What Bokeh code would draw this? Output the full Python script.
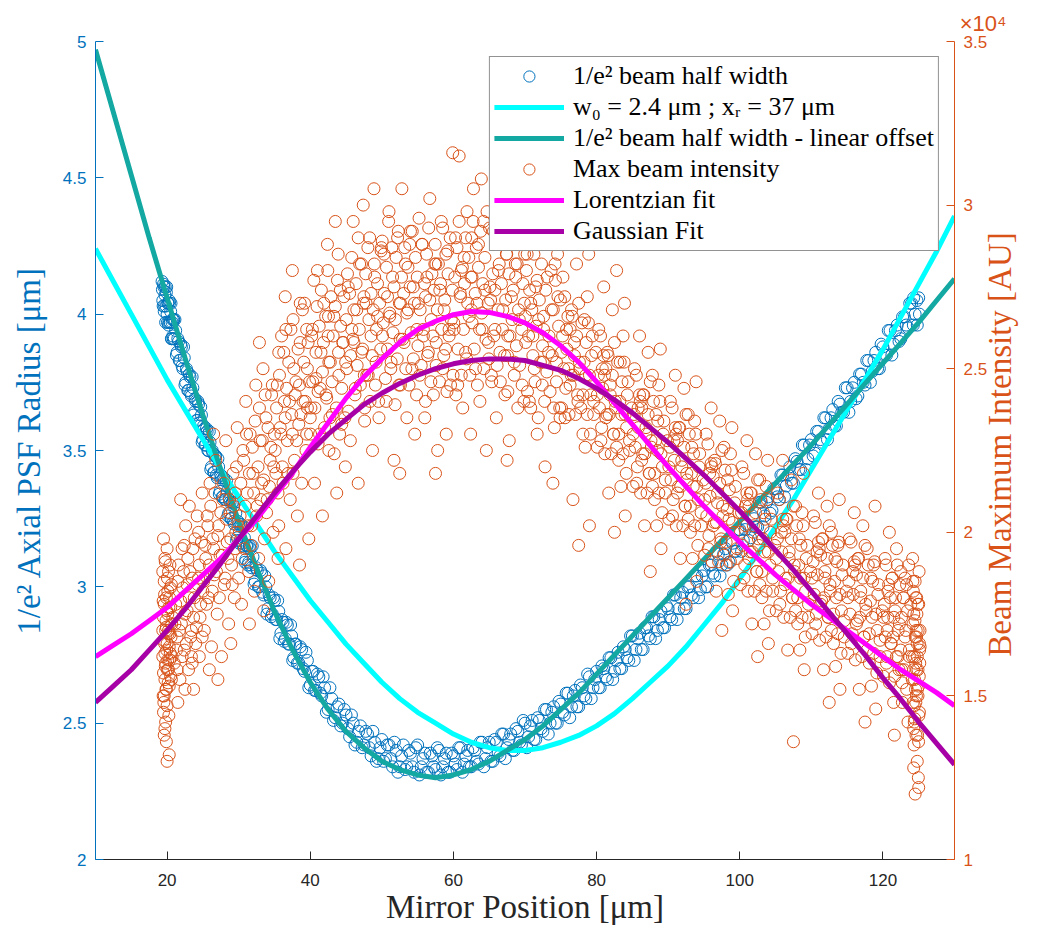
import math
from bokeh.plotting import figure
from bokeh.models import (Range1d, LinearAxis, FixedTicker, NumeralTickFormatter,
                          CustomJSTickFormatter, Legend, LegendItem, Title)
from bokeh.embed import file_html
from bokeh.resources import INLINE

# ---------------- data ----------------
x_ticks = [20, 40, 60, 80, 100, 120]
left_ticks = [2, 2.5, 3, 3.5, 4, 4.5, 5]
right_ticks = [1, 1.5, 2, 2.5, 3, 3.5]

# 1/e^2 beam half width (left axis, um) vs mirror position (um)
blue_x = [19.3, 19.4, 19.5, 19.6, 19.7, 19.8, 19.9, 20.0, 20.1, 20.2, 20.3, 20.4, 20.5, 20.6, 20.7, 20.8, 20.9, 21.0,
          21.2, 21.4, 21.6, 21.8, 22.0, 22.2, 22.4, 22.6, 22.8, 23.0, 23.2, 23.4, 23.6, 23.8, 24.0, 24.2, 24.4, 24.6,
          24.8, 25.0, 25.2, 25.4, 25.6, 25.8, 26.0, 26.2, 26.4, 26.6, 26.8, 27.0, 27.2, 27.4, 27.6, 27.8, 28.0, 28.2,
          28.4, 28.6, 28.8, 29.0, 29.2, 29.4, 29.6, 29.8, 30.0, 30.2, 30.4, 30.6, 30.8, 31.0, 31.2, 31.4, 31.6, 31.8, 32.0,
          32.3, 32.6, 32.9, 33.2, 33.5, 33.8, 34.1, 34.4, 34.7, 35.0, 35.3, 35.6, 35.9, 36.2, 36.5, 36.8, 37.1, 37.4, 37.7, 38.0,
          38.4, 38.8, 39.2, 39.6, 40.0, 40.4, 40.8, 41.2, 41.6, 42.0,
          42.5, 43.0, 43.5, 44.0, 44.5, 45.0, 45.5, 46.0, 46.5, 47.0, 47.5, 48.0, 48.5, 49.0, 49.5, 50.0,
          50.5, 51.0, 51.5, 52.0, 52.5, 53.0, 53.5, 54.0, 54.5, 55.0, 55.5, 56.0, 56.5, 57.0, 57.5, 58.0,
          58.5, 59.0, 59.5, 60.0, 60.5, 61.0, 61.5, 62.0, 62.5, 63.0, 63.5, 64.0, 64.5, 65.0, 65.5, 66.0,
          66.5, 67.0, 67.5, 68.0, 68.5, 69.0, 69.5, 70.0, 70.5, 71.0, 71.5, 72.0, 72.5, 73.0, 73.5, 74.0,
          74.5, 75.0, 75.5, 76.0, 76.5, 77.0, 77.5, 78.0, 78.5, 79.0, 79.5, 80.0, 80.5, 81.0, 81.5, 82.0,
          82.5, 83.0, 83.5, 84.0, 84.5, 85.0, 85.5, 86.0, 86.5, 87.0, 87.5, 88.0, 88.5, 89.0, 89.5, 90.0,
          90.5, 91.0, 91.5, 92.0, 92.5, 93.0, 93.5, 94.0, 94.5, 95.0, 95.5, 96.0, 96.5, 97.0, 97.5, 98.0,
          98.5, 99.0, 99.5, 100.0, 100.5, 101.0, 101.5, 102.0, 102.5, 103.0, 103.5, 104.0, 104.5, 105.0,
          105.5, 106.0, 106.5, 107.0, 107.5, 108.0, 108.5, 109.0, 109.5, 110.0, 110.5, 111.0, 111.5, 112.0,
          112.5, 113.0, 113.5, 114.0, 114.5, 115.0, 115.5, 116.0, 116.5, 117.0, 117.5, 118.0, 118.5, 119.0,
          119.5, 120.0, 120.5, 121.0, 121.5, 122.0, 122.5, 123.0, 123.5, 124.0, 124.5, 125.0,
          124.8, 125.1, 124.3,
          19.35, 19.45, 19.55, 19.65, 19.75, 19.85, 19.95, 20.05, 20.15, 20.25, 20.35, 20.45, 20.55, 20.65, 20.75, 20.85, 20.95,
          21.1, 21.3, 21.5, 21.7, 21.9, 22.1, 22.3, 22.5, 22.7, 22.9, 23.1, 23.3, 23.5, 23.7, 23.9, 24.1, 24.3, 24.5, 24.7, 24.9,
          25.1, 25.3, 25.5, 25.7, 25.9, 26.1, 26.3, 26.5, 26.7, 26.9, 27.1, 27.3, 27.5, 27.7, 27.9, 28.1, 28.3, 28.5, 28.7, 28.9,
          29.1, 29.3, 29.5, 29.7, 29.9, 30.1, 30.3, 30.5, 30.7, 30.9, 31.1, 31.3, 31.5, 31.7, 31.9,
          32.15, 32.45, 32.75, 33.05, 33.35, 33.65, 33.95, 34.25, 34.55, 34.85, 35.15, 35.45, 35.75, 36.05, 36.35, 36.65,
          36.95, 37.25, 37.55, 37.85, 38.2, 38.6, 39.0, 39.4, 39.8, 40.2, 40.6, 41.0, 41.4, 41.8, 42.25,
          42.75, 43.25, 43.75, 44.25, 44.75, 45.25, 45.75, 46.25, 46.75, 47.25, 47.75, 48.25, 48.75, 49.25, 49.75,
          50.25, 50.75, 51.25, 51.75, 52.25, 52.75, 53.25, 53.75, 54.25, 54.75, 55.25, 55.75, 56.25, 56.75, 57.25, 57.75,
          58.25, 58.75, 59.25, 59.75, 60.25, 60.75, 61.25, 61.75, 62.25, 62.75, 63.25, 63.75, 64.25, 64.75, 65.25, 65.75,
          66.25, 66.75, 67.25, 67.75, 68.25, 68.75, 69.25, 69.75, 70.25, 70.75, 71.25, 71.75, 72.25, 72.75, 73.25, 73.75,
          74.25, 74.75, 75.25, 75.75, 76.25, 76.75, 77.25, 77.75, 78.25, 78.75, 79.25, 79.75, 80.25, 80.75, 81.25, 81.75,
          82.25, 82.75, 83.25, 83.75, 84.25, 84.75, 85.25, 85.75, 86.25, 86.75, 87.25, 87.75, 88.25, 88.75, 89.25, 89.75,
          90.25, 90.75, 91.25, 91.75, 92.25, 92.75, 93.25, 93.75, 94.25, 94.75, 95.25, 95.75, 96.25, 96.75, 97.25, 97.75,
          98.25, 98.75, 99.25, 99.75, 100.25, 100.75, 101.25, 101.75, 102.25, 102.75, 103.25, 103.75, 104.25, 104.75,
          105.25, 105.75, 106.25, 106.75, 107.25, 107.75, 108.25, 108.75, 109.25, 109.75, 110.25, 110.75, 111.25, 111.75,
          112.25, 112.75, 113.25, 113.75, 114.25, 114.75, 115.25, 115.75, 116.25, 116.75, 117.25, 117.75, 118.25, 118.75,
          119.25, 119.75, 120.25, 120.75, 121.25, 121.75, 122.25, 122.75, 123.25, 123.75, 124.25, 124.75]
blue_y = [4.12, 4.05, 4.11, 4.01, 4.07, 3.97, 4.08, 4.00, 4.04, 3.96, 4.05, 3.97, 4.01, 3.91, 3.97, 3.92, 3.98, 3.91,
          3.94, 3.86, 3.90, 3.83, 3.88, 3.80, 3.84, 3.75, 3.79, 3.72, 3.77, 3.70, 3.73, 3.64, 3.68, 3.61, 3.67, 3.59,
          3.63, 3.54, 3.58, 3.52, 3.57, 3.50, 3.53, 3.44, 3.49, 3.42, 3.48, 3.40, 3.44, 3.35, 3.40, 3.33, 3.39, 3.32,
          3.35, 3.27, 3.31, 3.25, 3.31, 3.23, 3.27, 3.18, 3.23, 3.17, 3.22, 3.15, 3.18, 3.10, 3.15, 3.09, 3.14, 3.07, 3.11,
          3.02, 3.06, 3.00, 3.05, 2.97, 3.00, 2.92, 2.96, 2.90, 2.95, 2.88, 2.91, 2.83, 2.87, 2.81, 2.86, 2.79, 2.82, 2.74, 2.79,
          2.72, 2.77, 2.69, 2.73, 2.64, 2.69, 2.62, 2.67, 2.60, 2.63,
          2.55, 2.59, 2.52, 2.57, 2.50, 2.53, 2.45, 2.50, 2.43, 2.49, 2.42, 2.46, 2.38, 2.43, 2.37, 2.44,
          2.37, 2.42, 2.34, 2.40, 2.34, 2.42, 2.34, 2.39, 2.32, 2.42, 2.34, 2.39, 2.32, 2.38, 2.33, 2.40,
          2.34, 2.39, 2.32, 2.38, 2.33, 2.41, 2.35, 2.40, 2.34, 2.40, 2.35, 2.43, 2.37, 2.43, 2.36, 2.43,
          2.38, 2.46, 2.41, 2.46, 2.40, 2.47, 2.42, 2.50, 2.45, 2.51, 2.44, 2.51, 2.47, 2.55, 2.50, 2.56,
          2.50, 2.57, 2.53, 2.61, 2.56, 2.62, 2.56, 2.63, 2.59, 2.67, 2.63, 2.69, 2.63, 2.70, 2.66, 2.74,
          2.69, 2.76, 2.70, 2.77, 2.73, 2.82, 2.77, 2.83, 2.77, 2.85, 2.81, 2.89, 2.84, 2.91, 2.85, 2.92,
          2.88, 2.97, 2.92, 2.98, 2.92, 3.00, 2.96, 3.04, 2.99, 3.06, 3.00, 3.08, 3.04, 3.12, 3.08, 3.14,
          3.09, 3.16, 3.13, 3.21, 3.17, 3.23, 3.18, 3.25, 3.22, 3.31, 3.26, 3.33, 3.28, 3.36,
          3.32, 3.41, 3.37, 3.44, 3.38, 3.46, 3.43, 3.52, 3.47, 3.54, 3.49, 3.57, 3.53, 3.62,
          3.58, 3.65, 3.59, 3.67, 3.64, 3.73, 3.68, 3.75, 3.70, 3.78, 3.74, 3.83, 3.79, 3.86,
          3.80, 3.88, 3.85, 3.94, 3.89, 3.96, 3.91, 3.99, 3.95, 4.04, 4.00, 4.06,
          3.96, 4.00, 4.06,
          4.09, 4.03, 4.10, 4.03, 4.10, 4.03, 4.10, 3.97, 4.04, 3.97, 4.04, 3.97, 4.04, 3.91, 3.98, 3.91, 3.98,
          3.98, 3.85, 3.91, 3.83, 3.89, 3.81, 3.88, 3.74, 3.80, 3.72, 3.78, 3.71, 3.77, 3.63, 3.69, 3.61, 3.68, 3.60, 3.66, 3.53,
          3.59, 3.52, 3.58, 3.50, 3.57, 3.43, 3.50, 3.42, 3.48, 3.41, 3.47, 3.34, 3.41, 3.33, 3.40, 3.32, 3.39, 3.26, 3.32, 3.25,
          3.31, 3.24, 3.31, 3.17, 3.24, 3.16, 3.23, 3.16, 3.22, 3.09, 3.15, 3.08, 3.15, 3.08, 3.15,
          3.01, 3.07, 3.00, 3.06, 2.98, 3.04, 2.90, 2.97, 2.89, 2.96, 2.88, 2.95, 2.81, 2.88, 2.80, 2.87,
          2.79, 2.86, 2.73, 2.79, 2.72, 2.78, 2.70, 2.76, 2.63, 2.69, 2.62, 2.68, 2.61, 2.67, 2.54,
          2.63, 2.51, 2.56, 2.49, 2.55, 2.48, 2.53, 2.42, 2.47, 2.41, 2.47, 2.41, 2.47, 2.36, 2.41,
          2.36, 2.42, 2.37, 2.43, 2.32, 2.38, 2.33, 2.40, 2.34, 2.41, 2.31, 2.37, 2.32, 2.39, 2.34, 2.41,
          2.31, 2.37, 2.32, 2.39, 2.35, 2.41, 2.32, 2.38, 2.34, 2.41, 2.36, 2.43, 2.34, 2.41, 2.36, 2.44,
          2.39, 2.46, 2.37, 2.44, 2.40, 2.48, 2.43, 2.51, 2.41, 2.49, 2.44, 2.52, 2.48, 2.55, 2.46, 2.54,
          2.50, 2.58, 2.54, 2.61, 2.52, 2.60, 2.56, 2.64, 2.60, 2.68, 2.59, 2.66, 2.63, 2.71, 2.67, 2.74,
          2.66, 2.73, 2.70, 2.78, 2.74, 2.82, 2.73, 2.81, 2.77, 2.85, 2.82, 2.89, 2.81, 2.88, 2.85, 2.93,
          2.89, 2.97, 2.88, 2.96, 2.92, 3.00, 2.97, 3.04, 2.96, 3.04, 3.00, 3.08, 3.05, 3.13, 3.04, 3.12,
          3.08, 3.17, 3.13, 3.21, 3.13, 3.21, 3.17, 3.26, 3.22, 3.31, 3.22, 3.31, 3.27, 3.36,
          3.33, 3.41, 3.33, 3.41, 3.38, 3.47, 3.43, 3.52, 3.43, 3.52, 3.48, 3.57, 3.54, 3.62,
          3.54, 3.62, 3.59, 3.68, 3.64, 3.73, 3.64, 3.73, 3.69, 3.78, 3.75, 3.83, 3.75, 3.83,
          3.80, 3.89, 3.85, 3.94, 3.85, 3.94, 3.90, 3.99, 3.96, 4.04, 3.96, 4.05]

# Max beam intensity (right axis, x 10^4 AU)
orange_x = [19.4, 19.5, 19.6, 19.7, 19.8, 19.4, 19.9, 20.0, 19.5, 19.6, 19.8, 20.1, 19.7, 20.2, 19.9, 20.0, 20.3, 19.5, 19.6, 20.1,
            19.8, 20.4, 19.7, 20.2, 19.9, 20.5, 19.4, 20.0, 20.3, 19.6, 20.6, 19.9, 20.1, 20.4, 19.7, 20.2, 20.7, 20.5, 19.5, 20.8, 20.0, 20.3,
            19.45, 19.55, 19.65, 19.75, 19.85, 19.95, 20.05, 20.15, 20.25, 20.35, 20.45, 20.55, 20.65,
            19.45, 19.55, 19.65, 19.75, 19.85, 19.95, 20.05, 20.15, 20.25, 20.35, 20.45, 20.6,
            21.0, 21.2, 21.4, 21.6, 21.8, 22.0, 22.2, 22.4, 22.6, 22.8, 23.0, 23.2, 23.4, 23.6, 23.8, 24.0, 24.2, 24.4, 24.6, 24.8,
            25.0, 21.5, 22.5, 23.5, 24.5, 22.1, 23.1, 21.9, 24.9, 23.7,
            21.1, 21.3, 21.5, 21.7, 21.9, 22.1, 22.3, 22.5, 22.7, 22.9, 23.1, 23.3, 23.5, 23.7, 23.9, 24.1, 24.3, 24.5, 24.7, 24.9,
            21.4, 22.4, 23.4, 24.4, 22.8,
            25.2, 25.4, 25.6, 25.8, 26.0, 26.2, 26.4, 26.6, 26.8, 27.0, 27.2, 27.4, 27.6, 27.8, 28.0, 28.2, 28.4, 28.6, 28.8, 29.0,
            29.2, 29.4, 29.6, 29.8, 30.0, 25.9, 27.1, 28.9, 26.5, 29.5,
            25.1, 25.3, 25.5, 25.7, 25.9, 26.1, 26.3, 26.5, 26.7, 26.9, 27.1, 27.3, 27.5, 27.7, 27.9, 28.1, 28.3, 28.5, 28.7, 28.9,
            29.1, 29.3, 29.5, 29.7, 29.9,
            30.2, 30.4, 30.6, 30.8, 31.0, 31.2, 31.4, 31.6, 31.8, 32.0, 32.2, 32.4, 32.6, 32.8, 33.0, 33.2, 33.4, 33.6, 33.8, 34.0,
            34.2, 34.4, 34.6, 34.8, 35.0, 31.5, 33.5, 32.9,
            30.1, 30.3, 30.5, 30.7, 30.9, 31.1, 31.3, 31.5, 31.7, 31.9, 32.1, 32.3, 32.5, 32.7, 32.9, 33.1, 33.3, 33.5, 33.7, 33.9,
            34.1, 34.3, 34.5, 34.7, 34.9,
            35.2, 35.4, 35.6, 35.8, 36.0, 36.2, 36.4, 36.6, 36.8, 37.0, 37.2, 37.4, 37.6, 37.8, 38.0, 38.2, 38.4, 38.6, 38.8, 39.0,
            39.2, 39.4, 39.6, 39.8, 40.0, 36.5, 38.5, 37.5, 39.5, 35.5,
            35.1, 35.3, 35.5, 35.7, 35.9, 36.1, 36.3, 36.5, 36.7, 36.9, 37.1, 37.3, 37.5, 37.7, 37.9, 38.1, 38.3, 38.5, 38.7, 38.9,
            39.1, 39.3, 39.5, 39.7, 39.9, 35.6, 36.6, 37.6, 38.6, 39.6,
            40.1, 40.3, 40.6, 40.8, 41.0, 41.3, 41.5, 41.7, 41.9, 42.2, 42.4, 42.6, 42.8, 43.1, 43.3, 43.5, 43.7, 44.0, 44.2, 44.4, 44.6, 44.9, 41.1, 42.5, 43.9,
            40.05, 40.2, 40.35, 40.5, 40.65, 40.8, 40.95, 41.1, 41.25, 41.4, 41.55, 41.7, 41.85, 42.0, 42.15, 42.3, 42.45, 42.6,
            42.75, 42.9, 43.05, 43.2, 43.35, 43.5, 43.65, 43.8, 43.95, 44.1, 44.25, 44.4, 44.55, 44.7, 44.85, 44.95, 42.55,
            45.1, 45.3, 45.6, 45.8, 46.0, 46.3, 46.5, 46.7, 46.9, 47.2, 47.4, 47.6, 47.8, 48.1, 48.3, 48.5, 48.7, 49.0, 49.2, 49.4, 49.6, 49.9, 46.1, 47.5, 48.9,
            45.05, 45.2, 45.35, 45.5, 45.65, 45.8, 45.95, 46.1, 46.25, 46.4, 46.55, 46.7, 46.85, 47.0, 47.15, 47.3, 47.45, 47.6,
            47.75, 47.9, 48.05, 48.2, 48.35, 48.5, 48.65, 48.8, 48.95, 49.1, 49.25, 49.4, 49.55, 49.7, 49.85, 49.95, 47.55,
            50.1, 50.3, 50.6, 50.8, 51.0, 51.3, 51.5, 51.7, 51.9, 52.2, 52.4, 52.6, 52.8, 53.1, 53.3, 53.5, 53.7, 54.0, 54.2, 54.4, 54.6, 54.9, 51.1, 52.5, 53.9,
            50.05, 50.2, 50.35, 50.5, 50.65, 50.8, 50.95, 51.1, 51.25, 51.4, 51.55, 51.7, 51.85, 52.0, 52.15, 52.3, 52.45, 52.6,
            52.75, 52.9, 53.05, 53.2, 53.35, 53.5, 53.65, 53.8, 53.95, 54.1, 54.25, 54.4, 54.55, 54.7, 54.85, 54.95, 52.55,
            55.1, 55.3, 55.6, 55.8, 56.0, 56.3, 56.5, 56.7, 56.9, 57.2, 57.4, 57.6, 57.8, 58.1, 58.3, 58.5, 58.7, 59.0, 59.2, 59.4, 59.6, 59.9, 56.1, 57.5, 58.9,
            55.05, 55.2, 55.35, 55.5, 55.65, 55.8, 55.95, 56.1, 56.25, 56.4, 56.55, 56.7, 56.85, 57.0, 57.15, 57.3, 57.45, 57.6,
            57.75, 57.9, 58.05, 58.2, 58.35, 58.5, 58.65, 58.8, 58.95, 59.1, 59.25, 59.4, 59.55, 59.7, 59.85, 59.95, 57.55,
            60.1, 60.3, 60.6, 60.8, 61.0, 61.3, 61.5, 61.7, 61.9, 62.2, 62.4, 62.6, 62.8, 63.1, 63.3, 63.5, 63.7, 64.0, 64.2, 64.4, 64.6, 64.9, 61.1, 62.5, 63.9,
            60.05, 60.2, 60.35, 60.5, 60.65, 60.8, 60.95, 61.1, 61.25, 61.4, 61.55, 61.7, 61.85, 62.0, 62.15, 62.3, 62.45, 62.6,
            62.75, 62.9, 63.05, 63.2, 63.35, 63.5, 63.65, 63.8, 63.95, 64.1, 64.25, 64.4, 64.55, 64.7, 64.85, 64.95, 62.55,
            65.1, 65.3, 65.6, 65.8, 66.0, 66.3, 66.5, 66.7, 66.9, 67.2, 67.4, 67.6, 67.8, 68.1, 68.3, 68.5, 68.7, 69.0, 69.2, 69.4, 69.6, 69.9, 66.1, 67.5, 68.9,
            65.05, 65.2, 65.35, 65.5, 65.65, 65.8, 65.95, 66.1, 66.25, 66.4, 66.55, 66.7, 66.85, 67.0, 67.15, 67.3, 67.45, 67.6,
            67.75, 67.9, 68.05, 68.2, 68.35, 68.5, 68.65, 68.8, 68.95, 69.1, 69.25, 69.4, 69.55, 69.7, 69.85, 69.95, 67.55,
            70.1, 70.3, 70.6, 70.8, 71.0, 71.3, 71.5, 71.7, 71.9, 72.2, 72.4, 72.6, 72.8, 73.1, 73.3, 73.5, 73.7, 74.0, 74.2, 74.4, 74.6, 74.9, 71.1, 72.5, 73.9,
            70.05, 70.2, 70.35, 70.5, 70.65, 70.8, 70.95, 71.1, 71.25, 71.4, 71.55, 71.7, 71.85, 72.0, 72.15, 72.3, 72.45, 72.6,
            72.75, 72.9, 73.05, 73.2, 73.35, 73.5, 73.65, 73.8, 73.95, 74.1, 74.25, 74.4, 74.55, 74.7, 74.85, 74.95, 72.55,
            75.1, 75.3, 75.6, 75.8, 76.0, 76.3, 76.5, 76.7, 76.9, 77.2, 77.4, 77.6, 77.8, 78.1, 78.3, 78.5, 78.7, 79.0, 79.2, 79.4, 79.6, 79.9, 76.1, 77.5, 78.9,
            75.1, 75.25, 75.4, 75.55, 75.7, 75.85, 76.0, 76.15, 76.3, 76.45, 76.6, 76.75, 76.9, 77.05, 77.2, 77.35, 77.5, 77.65,
            77.8, 77.95, 78.1, 78.25, 78.4, 78.55, 78.7, 78.85, 79.0, 79.15, 79.3, 79.6,
            80.1, 80.3, 80.6, 80.8, 81.0, 81.3, 81.5, 81.7, 81.9, 82.2, 82.4, 82.6, 82.8, 83.1, 83.3, 83.5, 83.7, 84.0, 84.2, 84.4, 84.6, 84.9, 81.1, 82.5, 83.9,
            80.1, 80.25, 80.4, 80.55, 80.7, 80.85, 81.0, 81.15, 81.3, 81.45, 81.6, 81.75, 81.9, 82.05, 82.2, 82.35, 82.5, 82.65,
            82.8, 82.95, 83.1, 83.25, 83.4, 83.55, 83.7, 83.85, 84.0, 84.15, 84.3, 84.6,
            85.1, 85.3, 85.6, 85.8, 86.0, 86.3, 86.5, 86.7, 86.9, 87.2, 87.4, 87.6, 87.8, 88.1, 88.3, 88.5, 88.7, 89.0, 89.2, 89.4, 89.6, 89.9, 86.1, 87.5, 88.9,
            85.1, 85.25, 85.4, 85.55, 85.7, 85.85, 86.0, 86.15, 86.3, 86.45, 86.6, 86.75, 86.9, 87.05, 87.2, 87.35, 87.5, 87.65,
            87.8, 87.95, 88.1, 88.25, 88.4, 88.55, 88.7, 88.85, 89.0, 89.15, 89.3, 89.6,
            90.1, 90.3, 90.6, 90.8, 91.0, 91.3, 91.5, 91.7, 91.9, 92.2, 92.4, 92.6, 92.8, 93.1, 93.3, 93.5, 93.7, 94.0, 94.2, 94.4, 94.6, 94.9, 91.1, 92.5, 93.9,
            90.1, 90.25, 90.4, 90.55, 90.7, 90.85, 91.0, 91.15, 91.3, 91.45, 91.6, 91.75, 91.9, 92.05, 92.2, 92.35, 92.5, 92.65,
            92.8, 92.95, 93.1, 93.25, 93.4, 93.55, 93.7, 93.85, 94.0, 94.15, 94.3, 94.6,
            95.1, 95.3, 95.6, 95.8, 96.0, 96.3, 96.5, 96.7, 96.9, 97.2, 97.4, 97.6, 97.8, 98.1, 98.3, 98.5, 98.7, 99.0, 99.2, 99.4, 99.6, 99.9, 96.1, 97.5, 98.9,
            95.1, 95.25, 95.4, 95.55, 95.7, 95.85, 96.0, 96.15, 96.3, 96.45, 96.6, 96.75, 96.9, 97.05, 97.2, 97.35, 97.5, 97.65,
            97.8, 97.95, 98.1, 98.25, 98.4, 98.55, 98.7, 98.85, 99.0, 99.15, 99.3, 99.6,
            100.1, 100.3, 100.6, 100.8, 101.0, 101.3, 101.5, 101.7, 101.9, 102.2, 102.4, 102.6, 102.8, 103.1, 103.3, 103.5, 103.7, 104.0, 104.2, 104.4, 104.6, 104.9, 101.1, 102.5, 103.9,
            100.1, 100.25, 100.4, 100.55, 100.7, 100.85, 101.0, 101.15, 101.3, 101.45, 101.6, 101.75, 101.9, 102.05, 102.2, 102.35, 102.5, 102.65,
            102.8, 102.95, 103.1, 103.25, 103.4, 103.55, 103.7, 103.85, 104.0, 104.15, 104.3, 104.6,
            105.1, 105.3, 105.6, 105.8, 106.0, 106.3, 106.5, 106.7, 106.9, 107.2, 107.4, 107.6, 107.8, 108.1, 108.3, 108.5, 108.7, 109.0, 109.2, 109.4, 109.6, 109.9, 106.1, 107.5, 108.9,
            105.1, 105.25, 105.4, 105.55, 105.7, 105.85, 106.0, 106.15, 106.3, 106.45, 106.6, 106.75, 106.9, 107.05, 107.2, 107.35, 107.5, 107.65,
            107.8, 107.95, 108.1, 108.25, 108.4, 108.55, 108.7, 108.85, 109.0, 109.15, 109.3, 109.6,
            110.1, 110.3, 110.6, 110.8, 111.0, 111.3, 111.5, 111.7, 111.9, 112.2, 112.4, 112.6, 112.8, 113.1, 113.3, 113.5, 113.7, 114.0, 114.2, 114.4, 114.6, 114.9, 111.1, 112.5, 113.9,
            110.1, 110.25, 110.4, 110.55, 110.7, 110.85, 111.0, 111.15, 111.3, 111.45, 111.6, 111.75, 111.9, 112.05, 112.2, 112.35, 112.5, 112.65,
            112.8, 112.95, 113.1, 113.25, 113.4, 113.55, 113.7, 113.85, 114.0, 114.15, 114.3, 114.6,
            115.1, 115.3, 115.6, 115.8, 116.0, 116.3, 116.5, 116.7, 116.9, 117.2, 117.4, 117.6, 117.8, 118.1, 118.3, 118.5, 118.7, 119.0, 119.2, 119.4, 119.6, 119.9, 116.1, 117.5, 118.9,
            115.1, 115.25, 115.4, 115.55, 115.7, 115.85, 116.0, 116.15, 116.3, 116.45, 116.6, 116.75, 116.9, 117.05, 117.2, 117.35, 117.5, 117.65,
            117.8, 117.95, 118.1, 118.25, 118.4, 118.55, 118.7, 118.85, 119.0, 119.15, 119.3, 119.6,
            120.1, 120.3, 120.5, 120.7, 120.9, 121.1, 121.3, 121.5, 121.7, 121.9, 122.1, 122.3, 122.5, 122.7, 122.9, 123.1, 123.3, 123.5, 123.7, 123.9, 120.6, 121.6, 122.6, 123.6,
            120.08, 120.2, 120.32, 120.44, 120.56, 120.68, 120.8, 120.92, 121.04, 121.16, 121.28, 121.4, 121.52, 121.64, 121.76,
            121.88, 122.0, 122.12, 122.24, 122.36, 122.48, 122.6, 122.72, 122.84, 122.96, 123.08, 123.2, 123.32, 123.44, 123.7,
            124.1, 124.2, 124.3, 124.4, 124.5, 124.6, 124.7, 124.8, 124.9, 125.0, 125.1, 125.2, 124.15, 124.35, 124.55, 124.75, 124.95, 125.15,
            124.25, 124.45, 124.65, 124.85, 125.05, 124.5, 124.9, 125.1, 124.3, 124.7, 124.6, 125.0,
            124.12, 124.22, 124.32, 124.42, 124.52, 124.62, 124.72, 124.82, 124.92, 125.02, 125.12,
            124.18, 124.28, 124.38, 124.48, 124.58, 124.68, 124.78, 124.88, 124.98, 125.08, 125.18, 124.4, 124.8, 125.0]
orange_y = [1.62, 1.45, 1.78, 1.55, 1.70, 1.88, 1.52, 1.66, 1.74, 1.38, 1.60, 1.82, 1.92, 1.58, 1.71, 1.47, 1.65, 1.57, 1.85, 1.75,
            1.42, 1.69, 1.63, 1.88, 1.36, 1.77, 1.70, 1.95, 1.53, 1.50, 1.84, 1.80, 1.61, 1.90, 1.40, 1.70, 1.62, 1.56, 1.98, 1.74, 1.30, 1.32,
            1.50, 1.67, 1.81, 1.59, 1.73, 1.64, 1.86, 1.54, 1.77, 1.61, 1.83, 1.68, 1.72,
            1.79, 1.48, 1.66, 1.91, 1.52, 1.76, 1.58, 1.69, 1.44, 1.80, 1.63, 1.55,
            1.60, 1.78, 1.68, 1.90, 1.55, 1.72, 1.83, 1.64, 2.02, 1.76, 1.58, 1.88, 1.70, 1.95, 1.80, 1.66, 2.05, 1.86, 1.74, 1.97,
            1.82, 1.48, 1.52, 1.60, 1.62, 1.95, 2.08, 2.10, 2.12, 1.52,
            1.72, 1.64, 1.85, 1.70, 1.79, 1.62, 1.88, 1.75, 1.66, 1.92, 1.80, 1.68, 1.86, 1.74, 1.98, 1.71, 1.84, 1.90, 1.78, 1.68,
            1.58, 1.96, 1.62, 2.00, 1.84,
            1.70, 1.92, 2.05, 1.80, 2.15, 1.65, 1.98, 1.87, 2.22, 1.75, 2.02, 1.93, 1.62, 2.10, 1.84, 2.28, 1.97, 1.72, 2.06, 1.90,
            2.18, 1.80, 2.00, 2.32, 1.86, 1.58, 1.55, 1.66, 2.30, 2.12,
            1.85, 1.96, 1.78, 2.02, 1.90, 2.08, 1.82, 1.95, 2.12, 1.88, 1.99, 1.80, 2.06, 1.93, 2.15, 1.86, 2.04, 1.92, 2.10, 1.98,
            1.84, 2.08, 1.95, 2.20, 2.02,
            2.05, 1.78, 2.25, 1.95, 2.40, 2.12, 1.88, 2.30, 2.02, 2.18, 1.82, 2.45, 2.08, 1.92, 2.28, 2.15, 2.50, 1.98, 2.35, 2.10,
            1.85, 2.22, 2.42, 2.00, 2.30, 1.72, 1.76, 2.58,
            2.00, 2.15, 1.92, 2.22, 2.08, 2.30, 2.02, 2.18, 1.96, 2.26, 2.12, 2.34, 2.05, 2.20, 2.38, 2.10, 2.28, 2.16, 2.42, 2.06,
            2.32, 2.14, 2.26, 2.45, 2.20,
            2.18, 2.45, 2.02, 2.32, 2.60, 2.15, 2.40, 1.95, 2.28, 2.52, 2.10, 2.36, 2.65, 2.22, 2.46, 2.05, 2.33, 2.58, 2.15, 2.40,
            2.70, 2.25, 2.50, 1.98, 2.35, 2.72, 1.90, 2.80, 2.62, 1.92,
            2.25, 2.38, 2.12, 2.48, 2.30, 2.20, 2.55, 2.35, 2.44, 2.18, 2.40, 2.62, 2.30, 2.50, 2.42, 2.28, 2.56, 2.45, 2.36, 2.68,
            2.52, 2.40, 2.30, 2.58, 2.46, 2.55, 2.62, 2.18, 2.70, 2.38,
            2.38, 2.62, 2.15, 2.47, 2.80, 2.30, 2.55, 2.05, 2.70, 2.42, 2.88, 2.25, 2.52, 2.36, 2.66, 2.95, 2.12, 2.48, 2.74, 2.33, 2.58, 2.20, 2.43, 2.60, 2.85,
            2.30, 2.60, 2.46, 2.77, 2.38, 2.55, 2.69, 2.27, 2.63, 2.44, 2.74, 2.49, 2.58, 2.32, 2.66, 2.41, 2.80, 2.52,
            2.35, 2.72, 2.46, 2.60, 2.24, 2.69, 2.38, 2.77, 2.55, 2.30, 2.63, 2.44, 2.58, 2.72, 2.35, 2.52, 2.66,
            2.50, 2.75, 2.28, 2.62, 2.95, 2.44, 2.68, 2.15, 2.82, 2.55, 3.00, 2.38, 2.70, 2.48, 2.90, 2.60, 2.25, 2.78, 2.52, 2.66, 2.35, 2.86, 2.58, 2.72, 3.05,
            2.65, 2.79, 2.37, 2.73, 2.54, 2.84, 2.59, 2.68, 2.42, 2.76, 2.51, 2.90, 2.62, 2.45, 2.82, 2.56, 2.70, 2.34,
            2.79, 2.48, 2.87, 2.65, 2.40, 2.73, 2.54, 2.68, 2.82, 2.45, 2.62, 2.76, 2.40, 2.70, 2.56, 2.87, 2.48,
            2.60, 2.85, 2.40, 2.72, 2.98, 2.52, 2.78, 2.22, 2.65, 2.90, 2.45, 2.70, 3.05, 2.58, 2.82, 2.35, 2.68, 2.92, 2.50, 2.75, 2.30, 2.62, 2.66, 2.18, 2.88,
            2.89, 2.64, 2.73, 2.47, 2.81, 2.56, 2.95, 2.67, 2.50, 2.87, 2.61, 2.75, 2.39, 2.84, 2.53, 2.92, 2.70, 2.45,
            2.78, 2.59, 2.73, 2.87, 2.50, 2.67, 2.81, 2.45, 2.75, 2.61, 2.92, 2.53, 2.70, 2.84, 2.42, 2.78, 2.59,
            2.70, 2.48, 2.88, 2.60, 2.35, 2.78, 2.55, 3.02, 2.65, 2.42, 2.82, 2.58, 2.25, 2.74, 2.95, 2.50, 2.68, 2.30, 2.86, 2.62, 2.45, 3.16, 2.72, 2.18, 2.56,
            2.57, 2.96, 2.68, 2.51, 2.88, 2.62, 2.76, 2.40, 2.85, 2.54, 2.93, 2.71, 2.46, 2.79, 2.60, 2.74, 2.88, 2.51,
            2.68, 2.82, 2.46, 2.76, 2.62, 2.93, 2.54, 2.71, 2.85, 2.43, 2.79, 2.60, 2.90, 2.65, 2.74, 2.48, 2.82,
            2.62, 2.90, 2.45, 3.15, 2.72, 2.38, 2.84, 2.55, 2.98, 2.66, 2.30, 2.78, 3.05, 2.50, 2.70, 2.88, 2.40, 2.62, 2.95, 2.74, 2.25, 2.58, 2.80, 2.68, 3.08,
            2.64, 2.78, 2.42, 2.87, 2.56, 2.95, 2.73, 2.48, 2.81, 2.62, 2.76, 2.90, 2.53, 2.70, 2.84, 2.48, 2.78, 2.64,
            2.95, 2.56, 2.73, 2.87, 2.45, 2.81, 2.62, 2.92, 2.67, 2.76, 2.50, 2.84, 2.59, 2.98, 2.70, 2.53, 2.90,
            2.75, 2.48, 2.92, 2.62, 2.35, 2.80, 2.55, 3.02, 2.68, 2.42, 2.85, 2.60, 2.28, 2.72, 2.96, 2.52, 2.78, 2.38, 2.65, 2.90, 2.45, 2.70, 3.10, 2.22, 2.82,
            2.93, 2.71, 2.46, 2.79, 2.60, 2.74, 2.88, 2.51, 2.68, 2.82, 2.46, 2.76, 2.62, 2.93, 2.54, 2.71, 2.85, 2.43,
            2.79, 2.60, 2.90, 2.65, 2.74, 2.48, 2.82, 2.57, 2.96, 2.68, 2.51, 2.88, 2.62, 2.76, 2.40, 2.85, 2.54,
            2.58, 2.85, 2.40, 2.70, 2.98, 2.50, 2.75, 2.30, 2.65, 2.90, 2.45, 2.62, 2.20, 2.78, 2.55, 3.02, 2.68, 2.38, 2.82, 2.52, 2.72, 2.35, 2.60, 2.92, 2.15,
            2.66, 2.80, 2.43, 2.60, 2.74, 2.38, 2.68, 2.54, 2.85, 2.46, 2.63, 2.77, 2.35, 2.71, 2.52, 2.82, 2.57, 2.66,
            2.40, 2.74, 2.49, 2.88, 2.60, 2.43, 2.80, 2.54, 2.68, 2.32, 2.77, 2.46, 2.85, 2.63, 2.38, 2.71, 2.52,
            2.55, 2.78, 2.35, 2.62, 2.90, 2.45, 2.68, 2.10, 2.58, 2.82, 2.40, 2.52, 2.95, 2.30, 2.65, 2.48, 2.72, 2.02, 2.42, 2.60, 2.36, 2.55, 2.50, 1.96, 2.85,
            2.38, 2.60, 2.50, 2.72, 2.44, 2.56, 2.66, 2.36, 2.62, 2.48, 2.66, 2.48, 2.54, 2.36, 2.60, 2.42, 2.70, 2.50,
            2.38, 2.64, 2.42, 2.52, 2.26, 2.58, 2.36, 2.64, 2.48, 2.30, 2.54, 2.40,
            2.42, 2.62, 2.28, 2.50, 2.75, 2.35, 2.55, 2.12, 2.45, 2.68, 2.30, 2.40, 2.80, 2.22, 2.52, 2.36, 2.60, 2.05, 2.32, 2.46, 2.25, 2.38, 2.48, 2.00, 2.70,
            2.26, 2.48, 2.38, 2.60, 2.32, 2.44, 2.54, 2.24, 2.50, 2.36, 2.54, 2.36, 2.42, 2.24, 2.48, 2.30, 2.58, 2.38,
            2.26, 2.52, 2.30, 2.40, 2.14, 2.46, 2.24, 2.52, 2.36, 2.18, 2.42, 2.28,
            2.30, 2.50, 2.15, 2.38, 2.60, 2.22, 2.42, 2.02, 2.32, 2.55, 2.18, 2.28, 2.48, 2.10, 2.36, 2.25, 2.45, 1.95, 2.20, 2.34, 2.12, 2.28, 2.40, 1.88, 2.56,
            2.14, 2.36, 2.26, 2.48, 2.20, 2.32, 2.42, 2.12, 2.38, 2.24, 2.42, 2.24, 2.30, 2.12, 2.36, 2.18, 2.46, 2.26,
            2.14, 2.40, 2.18, 2.28, 2.02, 2.34, 2.12, 2.40, 2.24, 2.06, 2.30, 2.16,
            2.20, 2.40, 2.05, 2.28, 2.48, 2.12, 2.32, 1.92, 2.22, 2.44, 2.08, 2.18, 2.36, 2.00, 2.26, 2.14, 2.34, 1.85, 2.10, 2.24, 2.02, 2.16, 2.30, 1.78, 2.46,
            2.04, 2.26, 2.16, 2.38, 2.10, 2.22, 2.32, 2.02, 2.28, 2.14, 2.32, 2.14, 2.20, 2.02, 2.26, 2.08, 2.36, 2.16,
            2.04, 2.30, 2.08, 2.18, 1.92, 2.24, 2.02, 2.30, 2.14, 1.96, 2.20, 2.06,
            2.10, 2.30, 1.95, 2.18, 2.38, 2.02, 2.22, 1.82, 2.12, 2.34, 1.98, 2.08, 2.26, 1.90, 2.16, 2.04, 2.24, 1.76, 2.00, 2.14, 1.92, 2.06, 2.20, 1.70, 2.32,
            1.93, 2.15, 2.05, 2.27, 1.99, 2.11, 2.21, 1.91, 2.17, 2.03, 2.21, 2.03, 2.09, 1.91, 2.15, 1.97, 2.25, 2.05,
            1.93, 2.19, 1.97, 2.07, 1.81, 2.13, 1.91, 2.19, 2.03, 1.85, 2.09, 1.95,
            2.00, 2.20, 1.86, 2.08, 2.28, 1.92, 2.12, 1.72, 2.02, 2.24, 1.88, 1.98, 2.16, 1.80, 2.06, 1.94, 2.14, 1.66, 1.90, 2.04, 1.82, 1.96, 2.10, 1.62, 2.22,
            1.84, 2.06, 1.96, 2.18, 1.90, 2.02, 2.12, 1.82, 2.08, 1.94, 2.12, 1.94, 2.00, 1.82, 2.06, 1.88, 2.16, 1.96,
            1.84, 2.10, 1.88, 1.98, 1.72, 2.04, 1.82, 2.10, 1.94, 1.76, 2.00, 1.86,
            1.92, 2.12, 1.78, 2.00, 2.22, 1.84, 2.04, 1.64, 1.94, 2.16, 1.80, 1.90, 2.08, 1.72, 1.98, 1.86, 2.06, 1.58, 1.82, 1.96, 1.74, 1.88, 2.02, 1.36, 2.18,
            1.76, 1.98, 1.88, 2.10, 1.82, 1.94, 2.04, 1.74, 2.00, 1.86, 2.04, 1.86, 1.92, 1.74, 1.98, 1.80, 2.08, 1.88,
            1.76, 2.02, 1.80, 1.90, 1.64, 1.96, 1.74, 2.02, 1.86, 1.68, 1.92, 1.78,
            1.86, 2.05, 1.72, 1.94, 2.12, 1.78, 1.98, 1.58, 1.88, 2.08, 1.74, 1.84, 2.00, 1.66, 1.92, 1.80, 1.96, 1.52, 1.76, 1.90, 1.68, 1.82, 1.95, 1.48, 2.10,
            1.69, 1.91, 1.81, 2.03, 1.75, 1.87, 1.97, 1.67, 1.93, 1.79, 1.98, 1.80, 1.86, 1.68, 1.92, 1.74, 2.02, 1.82,
            1.70, 1.96, 1.75, 1.85, 1.59, 1.91, 1.69, 1.97, 1.81, 1.63, 1.87, 1.73,
            1.80, 1.98, 1.66, 1.88, 2.06, 1.72, 1.92, 1.52, 1.82, 2.02, 1.68, 1.78, 1.95, 1.60, 1.86, 1.74, 1.90, 1.46, 1.70, 1.84, 1.62, 1.76, 1.90, 1.42, 2.08,
            1.63, 1.85, 1.75, 1.97, 1.69, 1.81, 1.91, 1.61, 1.87, 1.73, 1.92, 1.74, 1.80, 1.62, 1.86, 1.68, 1.96, 1.76,
            1.64, 1.90, 1.69, 1.79, 1.53, 1.85, 1.63, 1.91, 1.75, 1.57, 1.81, 1.67,
            1.74, 1.92, 1.60, 1.82, 2.00, 1.66, 1.86, 1.48, 1.76, 1.95, 1.62, 1.72, 1.88, 1.54, 1.80, 1.68, 1.84, 1.42, 1.64, 1.78, 1.70, 1.38, 1.58, 1.90,
            1.56, 1.78, 1.68, 1.90, 1.62, 1.74, 1.84, 1.54, 1.80, 1.66, 1.86, 1.68, 1.74, 1.56, 1.80,
            1.62, 1.90, 1.70, 1.58, 1.84, 1.64, 1.74, 1.48, 1.80, 1.58, 1.86, 1.70, 1.52, 1.76, 1.62,
            1.55, 1.72, 1.40, 1.62, 1.85, 1.48, 1.68, 1.30, 1.58, 1.78, 1.45, 1.65, 1.92, 1.35, 1.52, 1.75, 1.25, 1.60,
            1.82, 1.43, 1.70, 1.38, 1.88, 1.20, 1.50, 1.66, 1.28, 1.58, 1.80, 1.22,
            1.62, 1.48, 1.75, 1.55, 1.68, 1.38, 1.80, 1.52, 1.70, 1.44, 1.64,
            1.85, 1.58, 1.42, 1.73, 1.60, 1.50, 1.66, 1.78, 1.36, 1.56, 1.70, 1.47, 1.62, 1.53]

# fitted curves, sampled along mirror position
fit_x = [10, 12.5, 15, 17.5, 20, 22.5, 25, 27.5, 30, 32.5, 35, 37.5, 40, 42.5, 45, 47.5, 50, 52.5, 55, 57.5,
         60, 62.5, 65, 67.5, 70, 72.5, 75, 77.5, 80, 82.5, 85, 87.5, 90, 92.5, 95, 97.5, 100, 102.5, 105, 107.5,
         110, 112.5, 115, 117.5, 120, 122.5, 125, 127.5, 130]
cyan_y = [4.24, 4.12, 4.00, 3.88, 3.76, 3.65, 3.54, 3.43, 3.33, 3.23, 3.13, 3.04, 2.95, 2.87, 2.79, 2.72, 2.65, 2.59, 2.54, 2.50,
          2.46, 2.43, 2.41, 2.40, 2.40, 2.41, 2.43, 2.455, 2.49, 2.535, 2.59, 2.65, 2.71, 2.78, 2.86, 2.94, 3.03, 3.12, 3.22, 3.32,
          3.43, 3.54, 3.65, 3.76, 3.87, 3.99, 4.11, 4.23, 4.36]
teal_y = [4.97, 4.74, 4.51, 4.28, 4.06, 3.84, 3.63, 3.43, 3.24, 3.07, 2.91, 2.77, 2.65, 2.55, 2.47, 2.41, 2.36, 2.33, 2.31, 2.30,
          2.31, 2.33, 2.36, 2.40, 2.44, 2.49, 2.55, 2.61, 2.68, 2.75, 2.82, 2.89, 2.96, 3.03, 3.10, 3.17, 3.24, 3.31, 3.38, 3.45,
          3.52, 3.595, 3.67, 3.745, 3.82, 3.895, 3.97, 4.05, 4.13]
lorentz_y = [1.62, 1.655, 1.69, 1.73, 1.77, 1.82, 1.87, 1.92, 1.98, 2.04, 2.11, 2.18, 2.26, 2.335, 2.41, 2.475, 2.53, 2.58, 2.62, 2.645,
             2.665, 2.675, 2.672, 2.66, 2.64, 2.61, 2.57, 2.52, 2.46, 2.395, 2.33, 2.265, 2.20, 2.14, 2.08, 2.025, 1.97, 1.92, 1.87, 1.825,
             1.78, 1.74, 1.70, 1.66, 1.62, 1.58, 1.545, 1.51, 1.47]
gauss_y = [1.48, 1.53, 1.58, 1.64, 1.70, 1.765, 1.835, 1.905, 1.98, 2.05, 2.12, 2.185, 2.245, 2.30, 2.345, 2.39, 2.425, 2.455, 2.48, 2.50,
           2.515, 2.525, 2.53, 2.53, 2.525, 2.51, 2.495, 2.47, 2.44, 2.405, 2.365, 2.32, 2.275, 2.225, 2.175, 2.12, 2.065, 2.005, 1.945, 1.885,
           1.82, 1.755, 1.69, 1.625, 1.555, 1.49, 1.42, 1.355, 1.29]

legend_labels = ["1/e\u00b2 beam half width",
                 "w\u2080 = 2.4 \u03bcm ; x\u1d63 = 37 \u03bcm",
                 "1/e\u00b2 beam half width - linear offset",
                 "Max beam intensity",
                 "Lorentzian fit",
                 "Gaussian Fit"]
right_axis_title = "Beam Maximum Intensity [AU]"

# ---------------- styling ----------------
BLUE = "#0072BD"
ORANGE = "#D95319"
CYAN = "#00FFFF"
TEAL = "#14A8A2"
MAGENTA = "#FF00FF"
PURPLE = "#A600A6"
DARK = "#262626"
SERIF = "Liberation Serif"
SANS = "Liberation Sans"

p = figure(width=1040, height=928, x_range=Range1d(10, 130), y_range=Range1d(2, 5),
           output_backend="svg", toolbar_location=None,
           min_border_left=95, min_border_right=86, min_border_top=41, min_border_bottom=69)
p.extra_y_ranges = {"int": Range1d(1, 3.5)}
p.grid.visible = False
p.outline_line_color = None
p.background_fill_color = "white"
p.border_fill_color = "white"

right_axis = LinearAxis(y_range_name="int")
p.add_layout(right_axis, "right")

def style_axis(ax, color, ticks, label, label_color, standoff, label_standoff):
    ax.ticker = FixedTicker(ticks=ticks)
    ax.formatter = NumeralTickFormatter(format="0.[0]")
    ax.minor_tick_line_color = None
    ax.major_tick_in = 8
    ax.major_tick_out = 0
    ax.axis_line_color = color
    ax.major_tick_line_color = color
    ax.major_label_text_color = color
    ax.major_label_text_font = SANS
    ax.major_label_text_font_size = "17px"
    ax.major_label_standoff = standoff
    if label:
        ax.axis_label = label
        ax.axis_label_text_font = SERIF
        ax.axis_label_text_font_style = "normal"
        ax.axis_label_text_font_size = "33px"
        ax.axis_label_text_color = label_color
        ax.axis_label_standoff = label_standoff

style_axis(p.xaxis[0], DARK, x_ticks, "Mirror Position [\u03bcm]", DARK, 14, 0)
style_axis(p.yaxis[0], BLUE, left_ticks, "1/e\u00b2 Axial PSF Radius [\u03bcm]", BLUE, 9, 13)
style_axis(right_axis, ORANGE, right_ticks, None, ORANGE, 9, 0)

# right-hand axis title, reading bottom-to-top like MATLAB's yyaxis label:
# drawn as the single rotated label of an extra, line-less axis (anchored at its start)
title_axis = LinearAxis(y_range_name="int", ticker=FixedTicker(ticks=[1.62]),
                        formatter=CustomJSTickFormatter(code="return '%s';" % right_axis_title))
title_axis.axis_line_color = None
title_axis.major_tick_line_color = None
title_axis.minor_tick_line_color = None
title_axis.major_tick_in = 0
title_axis.major_tick_out = 0
title_axis.major_label_orientation = math.pi / 2
title_axis.major_label_standoff = 10
title_axis.major_label_text_font = SERIF
title_axis.major_label_text_font_size = "33px"
title_axis.major_label_text_color = ORANGE
p.add_layout(title_axis, "right")

r_blue = p.scatter(blue_x, blue_y, marker="circle", size=12, fill_color=None,
                   line_color=BLUE, line_width=1)
r_cyan = p.line(fit_x, cyan_y, line_color=CYAN, line_width=5)
r_teal = p.line(fit_x, teal_y, line_color=TEAL, line_width=5)
r_orange = p.scatter(orange_x, orange_y, marker="circle", size=12, fill_color=None,
                     line_color=ORANGE, line_width=1, y_range_name="int")
r_mag = p.line(fit_x, lorentz_y, line_color=MAGENTA, line_width=5, y_range_name="int")
r_pur = p.line(fit_x, gauss_y, line_color=PURPLE, line_width=5, y_range_name="int")

legend = Legend(items=[LegendItem(label=legend_labels[0], renderers=[r_blue]),
                       LegendItem(label=legend_labels[1], renderers=[r_cyan]),
                       LegendItem(label=legend_labels[2], renderers=[r_teal]),
                       LegendItem(label=legend_labels[3], renderers=[r_orange]),
                       LegendItem(label=legend_labels[4], renderers=[r_mag]),
                       LegendItem(label=legend_labels[5], renderers=[r_pur])],
                location="top_right")
legend.margin = 15
legend.padding = 4
legend.spacing = 1
legend.glyph_width = 70
legend.glyph_height = 28
legend.label_height = 28
legend.label_standoff = 9
legend.label_text_font = SERIF
legend.label_text_font_size = "26px"
legend.label_text_color = "black"
legend.border_line_color = DARK
legend.border_line_width = 1
legend.background_fill_color = "white"
legend.background_fill_alpha = 1.0
p.add_layout(legend)

mult = Title(text="\u00d710\u2074", align="right", offset=-52, standoff=12,
             text_font=SANS, text_font_size="22px", text_color=ORANGE, text_font_style="normal")
p.add_layout(mult, "above")

open("out.html", "w").write(file_html(p, INLINE))
